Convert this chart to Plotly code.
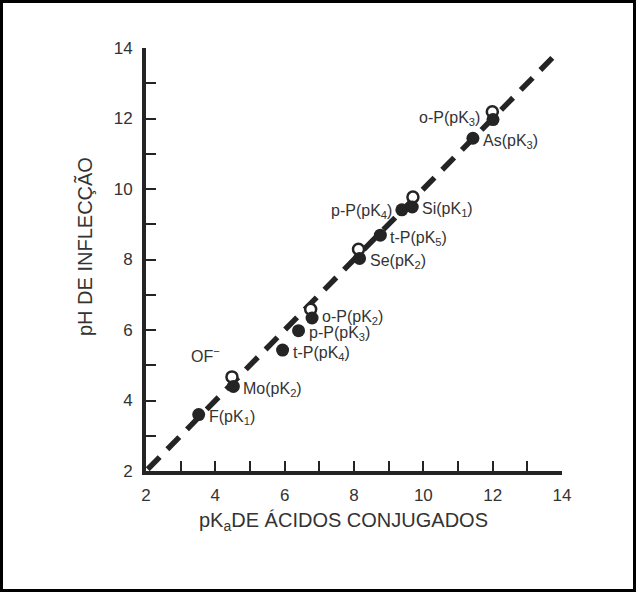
import plotly.graph_objects as go

# Filled points: pKa of conjugate acid vs. inflection pH
filled_names = ["F(pK<sub>1</sub>)", "Mo(pK<sub>2</sub>)", "t-P(pK<sub>4</sub>)", "p-P(pK<sub>3</sub>)",
                "o-P(pK<sub>2</sub>)", "Se(pK<sub>2</sub>)", "t-P(pK<sub>5</sub>)", "p-P(pK<sub>4</sub>)",
                "Si(pK<sub>1</sub>)", "As(pK<sub>3</sub>)", "o-P(pK<sub>3</sub>)"]
filled_pka = [3.52, 4.52, 5.94, 6.40, 6.79, 8.16, 8.76, 9.38, 9.68, 11.43, 12.01]
filled_ph = [3.60, 4.40, 5.43, 5.98, 6.34, 8.03, 8.69, 9.41, 9.49, 11.44, 11.97]

# Open points (OF-)
open_pka = [4.48, 6.75, 8.13, 9.70, 11.99]
open_ph = [4.67, 6.59, 8.29, 9.77, 12.19]

# Reference line pH = pKa
line_pka = [2.05, 13.75]
line_ph = [2.05, 13.75]

x_ticks = [2, 4, 6, 8, 10, 12, 14]
y_ticks = [2, 4, 6, 8, 10, 12, 14]

INK = "#242424"
TXT = "#333333"
FONT = "Liberation Sans, Arial, sans-serif"

W, H = 636, 592
ML, MR, MT, MB = 146, 74, 48, 121
PW, PH = W - ML - MR, H - MT - MB

fig = go.Figure()
fig.add_trace(go.Scatter(x=line_pka, y=line_ph, mode="lines",
                         line=dict(color=INK, width=5.5, dash="17px,11px"),
                         hoverinfo="skip", showlegend=False))
fig.add_trace(go.Scatter(x=open_pka, y=open_ph, mode="markers",
                         marker=dict(size=11, color="white", line=dict(color=INK, width=2.5)),
                         showlegend=False))
fig.add_trace(go.Scatter(x=filled_pka, y=filled_ph, mode="markers",
                         marker=dict(size=13, color=INK, line=dict(width=0)),
                         showlegend=False))

# point labels: (xanchor, xshift, yshift) per point
label_style = {
    "o-P(pK<sub>2</sub>)": ("left", 8, 1),
    "p-P(pK<sub>4</sub>)": ("right", -8, -2),
    "o-P(pK<sub>3</sub>)": ("right", -11, 1),
    "As(pK<sub>3</sub>)": ("left", 8, -3),
}
for name, x, y in zip(filled_names, filled_pka, filled_ph):
    anchor, xs, ys = label_style.get(name, ("left", 8, -3))
    fig.add_annotation(x=x, y=y, text=name, showarrow=False, xanchor=anchor,
                       yanchor="middle", xshift=xs, yshift=ys,
                       font=dict(family=FONT, size=16, color=TXT))

fig.add_annotation(x=3.72, y=5.30, text="OF<sup>\u2212</sup>", showarrow=False,
                   xanchor="center", yanchor="middle",
                   font=dict(family=FONT, size=16, color=TXT))

# axis titles
fig.add_annotation(xref="paper", yref="paper", x=(343 - ML) / PW, y=-(521 - MT - PH) / PH,
                   text="pK<sub>a</sub>DE ÁCIDOS CONJUGADOS", showarrow=False,
                   xanchor="center", yanchor="middle",
                   font=dict(family=FONT, size=20, color=TXT))
fig.add_annotation(xref="paper", yref="paper", x=(84 - ML) / PW, y=(MT + PH - 247) / PH,
                   text="pH DE INFLECÇÃO", showarrow=False, textangle=-90,
                   xanchor="center", yanchor="middle",
                   font=dict(family=FONT, size=20, color=TXT))

axis_common = dict(
    showgrid=False, zeroline=False, showline=True, linecolor=INK, linewidth=4,
    ticks="inside", ticklen=10, tickwidth=2, tickcolor=INK,
    minor=dict(ticks="inside", ticklen=10, tickwidth=2, tickcolor=INK, dtick=1, showgrid=False),
    tickfont=dict(family=FONT, size=17, color=TXT),
    ticklabelstandoff=6,
)
fig.update_xaxes(range=[2, 14], tickvals=x_ticks, **axis_common)
fig.update_yaxes(range=[2, 14], tickvals=y_ticks, **axis_common)

# frame around the whole figure
fig.add_shape(type="rect", xref="paper", yref="paper",
              x0=(1.5 - ML) / PW, x1=(W - 1.5 - ML) / PW,
              y0=-(MB - 1.5) / PH, y1=1 + (MT - 1.5) / PH,
              line=dict(color="black", width=3), fillcolor="rgba(0,0,0,0)")

fig.update_layout(width=W, height=H, margin=dict(l=ML, r=MR, t=MT, b=MB),
                  paper_bgcolor="white", plot_bgcolor="white",
                  font=dict(family=FONT, color=TXT))

fig.write_html("out.html")
